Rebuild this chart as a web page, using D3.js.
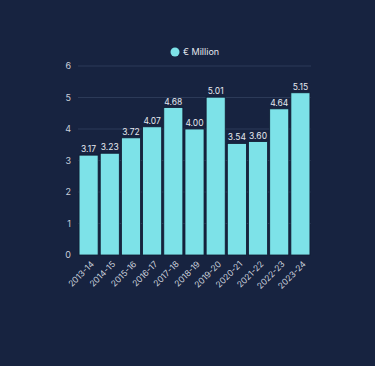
<!DOCTYPE html>
<html><head><meta charset="utf-8">
<script src="https://cdn.jsdelivr.net/npm/d3@7"></script>
<style>html,body{margin:0;padding:0;background:#172340;}svg{display:block;}</style>
</head><body>
<svg id="c" width="375" height="366"></svg>
<script>
const categories = ["2013-14","2014-15","2015-16","2016-17","2017-18","2018-19","2019-20","2020-21","2021-22","2022-23","2023-24"];
const values = [3.17,3.23,3.72,4.07,4.68,4.00,5.01,3.54,3.60,4.64,5.15];
const yTicks = [0,1,2,3,4,5,6];
const seriesName = "€ Million";

const svg = d3.select("#c");
svg.append("rect").attr("width",375).attr("height",366).attr("fill","#172340");
const m = {l:78, r:64, t:66, b:111};
const W = 375, H = 366;
const x = d3.scaleBand().domain(categories).range([m.l, W-m.r]).paddingInner(0.1).paddingOuter(0.05);
const y = d3.scaleLinear().domain([0,6]).range([H-m.b, m.t]);
const font = "Inter, 'DejaVu Sans', sans-serif";

// grid
svg.append("g").selectAll("line").data(yTicks.filter(d=>d>0)).join("line")
  .attr("x1",m.l).attr("x2",W-m.r).attr("y1",d=>y(d)).attr("y2",d=>y(d))
  .attr("stroke","#2c3a58").attr("stroke-width",1);

// y axis
const ya = svg.append("g").attr("transform",`translate(${m.l},0)`)
  .call(d3.axisLeft(y).tickValues(yTicks).tickSize(0).tickPadding(7).tickFormat(d3.format("d")));
ya.select(".domain").remove();
ya.selectAll("text").attr("fill","#c9cfdb").attr("font-size",9).attr("font-family",font);

// bars
svg.append("g").selectAll("rect").data(values).join("rect")
  .attr("x",(d,i)=>x(categories[i])).attr("width",x.bandwidth())
  .attr("y",d=>y(d)).attr("height",d=>y(0)-y(d))
  .attr("fill","#7de2e8").attr("stroke","#0f1a30").attr("stroke-width",0.8);

// value labels
svg.append("g").selectAll("text").data(values).join("text")
  .attr("x",(d,i)=>x(categories[i])+x.bandwidth()/2).attr("y",d=>y(d)-3)
  .attr("text-anchor","middle").attr("fill","#e4e8ef").attr("font-size",8.5).attr("font-family",font)
  .text(d=>d.toFixed(2));

// x axis
const xa = svg.append("g").attr("transform",`translate(0,${y(0)})`)
  .call(d3.axisBottom(x).tickSize(0).tickPadding(6));
xa.select(".domain").remove();
xa.selectAll("text").attr("fill","#c9cfdb").attr("font-size",8.5).attr("font-family",font)
  .attr("text-anchor","end").attr("transform","rotate(-45)").attr("dx","-0.3em").attr("dy","0.6em");

// legend
const lg = svg.append("g");
lg.append("circle").attr("cx",175).attr("cy",52).attr("r",4.5).attr("fill","#7de2e8");
lg.append("text").attr("x",183).attr("y",55).attr("fill","#e4e8ef").attr("font-size",9).attr("font-family",font).text(seriesName);
</script>
</body></html>
